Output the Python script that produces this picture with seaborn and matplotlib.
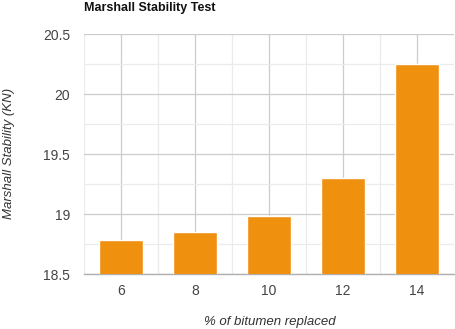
import matplotlib
matplotlib.use("Agg")
import matplotlib.pyplot as plt
from matplotlib.ticker import MultipleLocator, FixedLocator
import seaborn as sns
import pandas as pd

categories = ["6", "8", "10", "12", "14"]
stability = [18.79, 18.85, 18.99, 19.30, 20.25]
y_ticks = [18.5, 19, 19.5, 20, 20.5]
y_tick_labels = ["18.5", "19", "19.5", "20", "20.5"]

sns.set_theme(style="white")
plt.rcParams["font.family"] = ["Liberation Sans", "DejaVu Sans"]

df = pd.DataFrame({"pct": categories, "val": stability})

W, H = 455, 329
fig = plt.figure(figsize=(W / 100, H / 100), dpi=100)
ax = fig.add_axes([84 / W, 1 - 274.3 / H, 370 / W, 240 / H])

sns.barplot(data=df, x="pct", y="val", order=categories, color="#f0900f",
            width=0.6, saturation=1, ax=ax, zorder=3)

ax.set_ylim(18.5, 20.5)
ax.set_xlim(-0.5, len(categories) - 0.5)
ax.yaxis.set_major_locator(FixedLocator(y_ticks))
ax.set_yticklabels(y_tick_labels)
ax.yaxis.set_minor_locator(MultipleLocator(0.25))
ax.xaxis.set_minor_locator(FixedLocator([i + 0.5 for i in range(-1, len(categories))]))

ax.grid(which="major", color="#cccccc", linewidth=0.9, zorder=0)
ax.grid(which="minor", color="#ebebeb", linewidth=0.9, zorder=0)
ax.set_axisbelow(True)

for s in ["top", "right", "left"]:
    ax.spines[s].set_visible(False)
ax.spines["bottom"].set_color("#b0b0b0")
ax.spines["bottom"].set_linewidth(1.0)

ax.tick_params(axis="both", which="both", length=0, labelsize=10, labelcolor="#444444")
ax.tick_params(axis="y", pad=10)
ax.tick_params(axis="x", pad=7)

ax.set_xlabel("% of bitumen replaced", fontsize=9.5, style="italic", color="#333333")
ax.set_ylabel("Marshall Stability (KN)", fontsize=9.5, style="italic", color="#333333")
ax.xaxis.set_label_coords(270 / W, 1 - 322 / H, transform=fig.transFigure)
ax.yaxis.set_label_coords(9 / W, 1 - 153 / H, transform=fig.transFigure)
ax.xaxis.label.set_va("center")
ax.yaxis.label.set_va("center")

fig.text(84 / W, 1 - 8.5 / H, "Marshall Stability Test", fontsize=9, fontweight="bold",
         color="#111111", ha="left", va="center")

fig.savefig("out.png", dpi=100)
